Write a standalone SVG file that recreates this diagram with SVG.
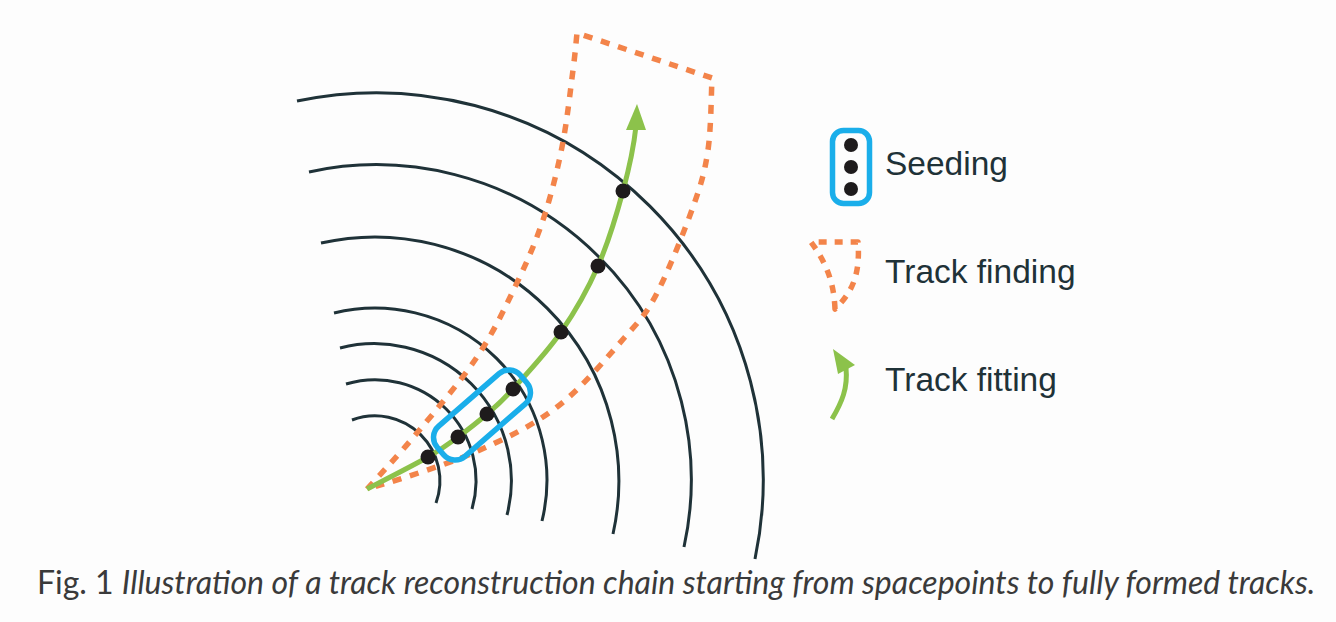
<svg xmlns="http://www.w3.org/2000/svg" width="1336" height="622" viewBox="0 0 1336 622">
<style>
.arc{fill:none;stroke:#1f3238;stroke-width:3;stroke-linecap:butt}
.dot{fill:#1e1b1c}
.find{fill:none;stroke:#f3844a;stroke-width:5.5;stroke-dasharray:9 9;stroke-linejoin:round}
.fit{fill:none;stroke:#8cc24b;stroke-width:5}
.seed{fill:none;stroke:#1aaeea;stroke-width:5.5}
.lbl{font-family:"Liberation Sans",Arial,sans-serif;font-size:33.5px;fill:#1f3238}
.cap{font-family:Lato,"Open Sans","Liberation Sans",sans-serif;font-size:32px;fill:#3a3a3a}
</style>
<rect width="1336" height="622" fill="#fdfdfd"/>
<g id="layers">
<path class="arc" d="M297,101 A387,387 0 0 1 755,559"/>
<path class="arc" d="M309,172 A315,315 0 0 1 684,547"/>
<path class="arc" d="M321,243 A244,244 0 0 1 613,534"/>
<path class="arc" d="M334,313 A172,172 0 0 1 542,521"/>
<path class="arc" d="M340,348 A137,137 0 0 1 507,515"/>
<path class="arc" d="M346,384 A101,101 0 0 1 472,509"/>
<path class="arc" d="M352,420 A65,65 0 0 1 436,503"/>
</g>
<g id="track-finding">
<path class="find" d="M367,489 C375.3,479.7 398.7,455 417,433 C435.3,411 460.7,381.3 477,357 C493.3,332.7 504,309.8 515,287 C526,264.2 535.2,243.3 543,220 C550.8,196.7 557,172 562,147 C567,122 570.5,89 573,70 C575.5,51 576.3,39.2 577,33 L712,78 C711.3,90 711.2,128.5 708,150 C704.8,171.5 701.5,183.2 693,207 C684.5,230.8 668.3,271.3 657,293 C645.7,314.7 641.7,318 625,337 C608.3,356 582.3,387.7 557,407 C531.7,426.3 504.7,439.2 473,453 C441.3,466.8 384.7,483.8 367,489 Z"/>
</g>
<g id="track-fitting">
<path class="fit" d="M367,489 C377.2,483.7 412.8,465.7 428,457 C443.2,448.3 448.2,444.2 458,437 C467.8,429.8 477.8,422 487,414 C496.2,406 500.7,402.7 513,389 C525.3,375.3 546.8,352.5 561,332 C575.2,311.5 587.7,289.5 598,266 C608.3,242.5 616.7,214.3 623,191 C629.3,167.7 634,145 636,126"/>
<polygon points="637,104 626,130 646,130" fill="#8cc24b"/>
</g>
<g id="seeding">
<rect class="seed" x="-55" y="-20" width="110" height="40" rx="15" transform="translate(482,415) rotate(-41)"/>
</g>
<g id="spacepoints">
<circle class="dot" cx="623" cy="191" r="7.5"/>
<circle class="dot" cx="598" cy="266" r="7.5"/>
<circle class="dot" cx="561" cy="332" r="7.5"/>
<circle class="dot" cx="513" cy="389" r="7.5"/>
<circle class="dot" cx="487" cy="414" r="7.5"/>
<circle class="dot" cx="458" cy="437" r="7.5"/>
<circle class="dot" cx="428" cy="457" r="7.5"/>
</g>
<g id="legend-seeding">
<rect class="seed" x="832.5" y="130.5" width="37" height="73" rx="11"/>
<circle class="dot" cx="851" cy="145" r="7"/>
<circle class="dot" cx="851" cy="167" r="7"/>
<circle class="dot" cx="851" cy="189" r="7"/>
<text class="lbl" x="885" y="175">Seeding</text>
</g>
<g id="legend-finding">
<path class="find" style="stroke-dasharray:8 8" d="M835,309 C834,285 828,265 811,242 L858,242 C860,270 855,290 835,309 Z"/>
<text class="lbl" x="885" y="283">Track finding</text>
</g>
<g id="legend-fitting">
<path class="fit" d="M832,419 C842,402 848,388 846,368"/>
<polygon points="833,349 855,365 838,374" fill="#8cc24b"/>
<text class="lbl" x="885" y="391">Track fitting</text>
</g>
<text class="cap" x="37" y="594">Fig. 1 <tspan font-style="italic">Illustration of a track reconstruction chain starting from spacepoints to fully formed tracks.</tspan></text>
</svg>
